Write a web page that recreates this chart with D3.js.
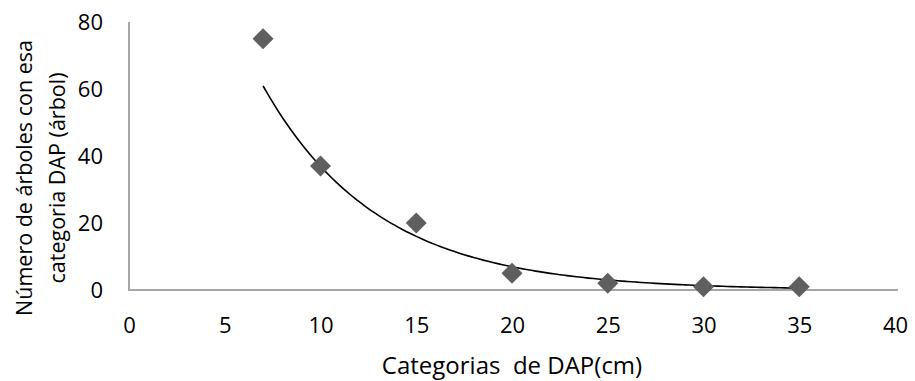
<!DOCTYPE html>
<html><head><meta charset="utf-8">
<script src="https://cdn.jsdelivr.net/npm/d3@7"></script>
<style>body{margin:0;background:#fff;} svg{display:block;} text{font-family:"Open Sans",sans-serif;fill:#000;}</style>
</head><body>
<svg id="c" width="915" height="381"></svg>
<script>
const xVals = [7, 10, 15, 20, 25, 30, 35];
const yVals = [75, 37, 20, 5, 2, 1, 1];
const xTicks = [0, 5, 10, 15, 20, 25, 30, 35, 40];
const yTicks = [0, 20, 40, 60, 80];
const xTitle = "Categorias  de DAP(cm)";
const yTitle = ["Número de árboles con esa", "categoria DAP (árbol)"];

const svg = d3.select("#c");
const m = {l:129, t:22};
const x = d3.scaleLinear().domain([0,40]).range([m.l, 895]);
const y = d3.scaleLinear().domain([0,80]).range([290, m.t]);

// axes
const xa = svg.append("g").attr("transform","translate(0,290)")
  .call(d3.axisBottom(x).tickValues(xTicks).tickSize(0).tickPadding(27));
xa.select(".domain").attr("stroke","#a6a6a6").attr("stroke-width",2).attr("d",`M${m.l},0H898`);
xa.selectAll("text").attr("font-size",22).attr("font-family","Open Sans").attr("fill","#000");

const ya = svg.append("g").attr("transform",`translate(${m.l},0)`)
  .call(d3.axisLeft(y).tickValues(yTicks).tickSize(0).tickPadding(26));
ya.select(".domain").attr("stroke","#a6a6a6").attr("stroke-width",2).attr("d",`M0,${y(80)}V291`);
ya.selectAll("text").attr("font-size",22).attr("font-family","Open Sans").attr("fill","#000");

// trendline: exponential least-squares fit on the data
const pts = xVals.map((v,i)=>[v,yVals[i]]);
const n = pts.length;
const mx = d3.mean(pts,d=>d[0]), ml = d3.mean(pts,d=>Math.log(d[1]));
const b = d3.sum(pts,d=>(d[0]-mx)*(Math.log(d[1])-ml))/d3.sum(pts,d=>(d[0]-mx)**2);
const a = Math.exp(ml - b*mx);
const trend = d3.range(xVals[0], xVals[n-1]+0.001, 0.25).map(v=>[v, a*Math.exp(b*v)]);
svg.append("path").datum(trend)
  .attr("d", d3.line().x(d=>x(d[0])).y(d=>y(d[1])).curve(d3.curveBasis))
  .attr("fill","none").attr("stroke","#000").attr("stroke-width",1.6);

// markers
const sym = d3.symbol().type(d3.symbolSquare).size(220);
svg.append("g").selectAll("path").data(pts).join("path")
  .attr("d", sym)
  .attr("transform", d=>`translate(${x(d[0])},${y(d[1])}) rotate(45)`)
  .attr("fill","#5f5f5f");

// titles
svg.append("text").attr("x",512).attr("y",374).attr("text-anchor","middle")
  .attr("font-size",24).style("white-space","pre").attr("xml:space","preserve").text(xTitle);
const yt = svg.append("text").attr("transform","translate(0,178) rotate(-90)").attr("text-anchor","middle").attr("font-size",21.5);
yt.append("tspan").attr("x",0).attr("y",32).text(yTitle[0]);
yt.append("tspan").attr("x",0).attr("y",65).text(yTitle[1]);
</script>
</body></html>
